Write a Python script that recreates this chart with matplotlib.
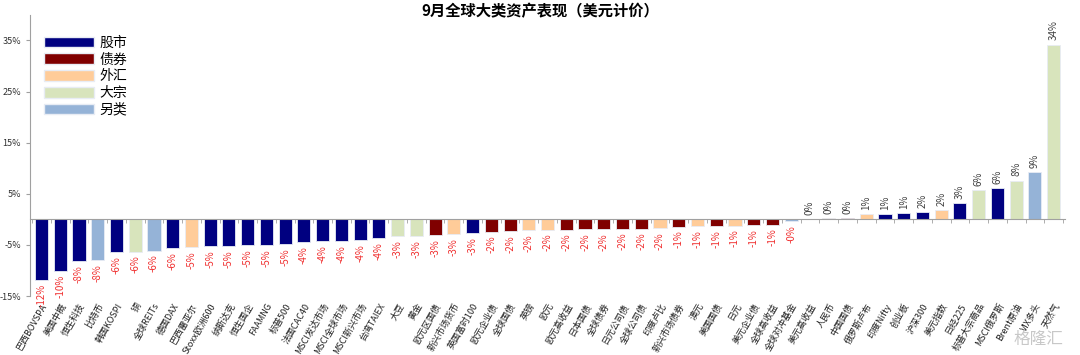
import numpy as np
import matplotlib.pyplot as plt
from matplotlib.patches import Patch

plt.rcParams['font.family'] = ['Noto Sans CJK SC', 'DejaVu Sans']

# 资产名称
names = ['巴西BOVSPA', '美国中概', '恒生科技', '比特币', '韩国KOSPI', '铜', '全球REITs', '德国DAX',
         '巴西雷亚尔', 'Stoxx欧洲600', '纳斯达克', '恒生国企', 'FAAMNG', '标普500', '法国CAC40',
         'MSCI发达市场', 'MSCI全球市场', 'MSCI新兴市场', '台湾TAIEX', '大豆', '黄金', '欧元区国债',
         '新兴市场货币', '英国富时100', '欧元企业债', '全球国债', '英镑', '欧元', '欧元高收益',
         '日本国债', '全球债券', '日元公司债', '全球公司债', '印度卢比', '新兴市场债券', '澳元',
         '美国国债', '日元', '美元企业债', '全球高收益', '全球对冲基金', '美元高收益', '人民币',
         '中国国债', '俄罗斯卢布', '印度Nifty', '创业板', '沪深300', '美元指数', '日经225',
         '标普大宗商品', 'MSCI俄罗斯', 'Brent原油', 'VIX多头', '天然气']

# 9月涨跌幅 (%)
values = [-11.9, -10.0, -8.1, -7.9, -6.4, -6.3, -6.1, -5.6,
          -5.4, -5.3, -5.2, -5.1, -5.0, -4.9, -4.4,
          -4.3, -4.2, -4.1, -3.7, -3.3, -3.2, -3.0,
          -2.9, -2.6, -2.4, -2.3, -2.1, -2.0, -2.0,
          -1.9, -1.9, -1.8, -1.8, -1.7, -1.4, -1.3,
          -1.3, -1.2, -1.1, -1.0, -0.3, 0.0, 0.2,
          0.3, 1.0, 1.1, 1.2, 1.5, 1.8, 3.2,
          5.8, 6.2, 7.6, 9.2, 34.2]

# 资产类别
kinds = ['股市', '股市', '股市', '另类', '股市', '大宗', '另类', '股市',
         '外汇', '股市', '股市', '股市', '股市', '股市', '股市',
         '股市', '股市', '股市', '股市', '大宗', '大宗', '债券',
         '外汇', '股市', '债券', '债券', '外汇', '外汇', '债券',
         '债券', '债券', '债券', '债券', '外汇', '债券', '外汇',
         '债券', '外汇', '债券', '债券', '另类', '债券', '外汇',
         '债券', '外汇', '股市', '股市', '股市', '外汇', '股市',
         '大宗', '股市', '大宗', '另类', '大宗']

kind_colors = {'股市': '#000080', '债券': '#800000', '外汇': '#FFCC99',
               '大宗': '#D8E4BC', '另类': '#95B3D7'}

fig = plt.figure(figsize=(10.8, 3.55), dpi=100)
ax = fig.add_axes([0.028, 0.166, 0.958, 0.792])

x = np.arange(len(names))
ax.bar(x, values, width=0.7, color=[kind_colors[k] for k in kinds],
       edgecolor='#E8ECF4', linewidth=0.6, zorder=2)

# 数值标签
for xi, v in zip(x, values):
    txt = f'{v:.0f}%'
    if v < 0:
        ax.text(xi, v - 0.8, txt, rotation=90, ha='center', va='top',
                fontsize=7, color='#F03030')
    else:
        ax.text(xi, v + 0.8, txt, rotation=90, ha='center', va='bottom',
                fontsize=7, color='#404040')

ax.set_xlim(-0.6, len(names) - 0.4)
ax.set_ylim(-15, 40)
ax.set_yticks([35, 25, 15, 5, -5, -15])
ax.set_yticklabels(['35%', '25%', '15%', '5%', '-5%', '-15%'])
ax.tick_params(axis='y', labelsize=6.5, length=3, color='#A0A0A0', labelcolor='#303030')

# 零轴 + 类目分隔刻度
ax.spines['bottom'].set_position(('data', 0))
ax.spines['bottom'].set_color('#A0A0A0')
ax.spines['left'].set_color('#A0A0A0')
ax.spines['top'].set_visible(False)
ax.spines['right'].set_visible(False)
ax.set_xticks([])
ax.set_xticks(np.arange(len(names) + 1) - 0.5, minor=True)
ax.tick_params(axis='x', which='minor', length=3, color='#A0A0A0')

# 底部类目标签
sec = ax.secondary_xaxis('bottom')
sec.set_xticks(x)
sec.set_xticklabels(names, rotation=60, ha='right', rotation_mode='anchor',
                    fontsize=6.5, color='#202020')
sec.tick_params(length=0, pad=4)
sec.spines['bottom'].set_visible(False)

# 图例
handles = [Patch(facecolor=c, edgecolor='#E8ECF4', label=k) for k, c in kind_colors.items()]
ax.legend(handles=handles, loc='upper left', bbox_to_anchor=(-0.003, 0.985), frameon=False,
          fontsize=10, handlelength=3.6, handleheight=0.8, labelspacing=0.2,
          handletextpad=0.4, borderaxespad=0.8)

fig.suptitle('9月全球大类资产表现（美元计价）', fontsize=11, fontweight='bold', y=0.99)

fig.text(0.985, 0.02, '格隆汇', fontsize=12, color='#C8C8C8', ha='right', va='bottom')

fig.savefig('out.png', dpi=100)
